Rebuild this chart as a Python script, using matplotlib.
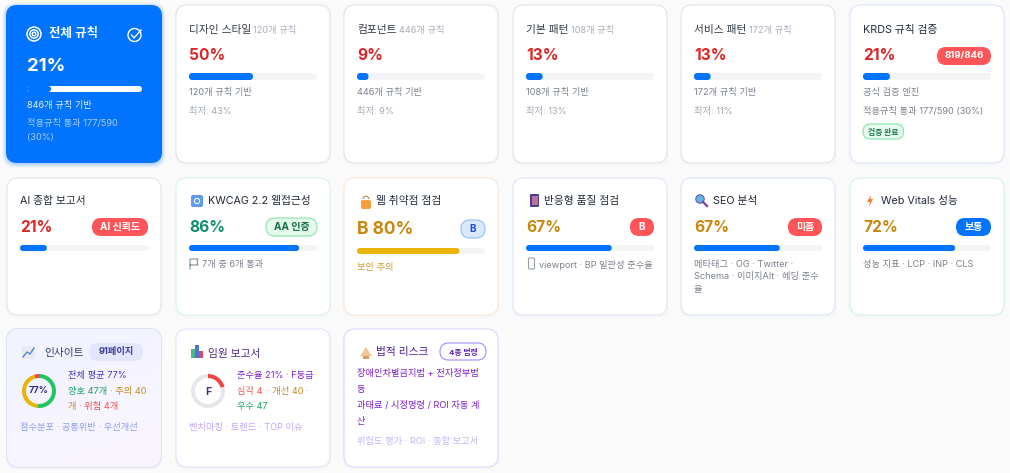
"""
Recreate the quality dashboard cards as a single matplotlib figure.
Axes are in screen pixels, origin top-left.
"""
import numpy as np
import matplotlib
matplotlib.use('Agg')
import matplotlib.pyplot as plt
from matplotlib.patches import FancyBboxPatch, Wedge, Circle, Polygon, Rectangle

plt.rcParams['font.family'] = ['Inter', 'Noto Sans CJK KR', 'DejaVu Sans']

# Data
total_pct = 21
total_notes = ['846개 규칙 기반', '적용규칙 통과 177/590', '(30%)']

top_titles = ['디자인 스타일', '컴포넌트', '기본 패턴', '서비스 패턴']
top_counts = [120, 446, 108, 172]
top_pcts = [50, 9, 13, 13]
top_lows = [43, 9, 13, 11]

krds_pct = 21
krds_badge = '819/846'
krds_notes = ['공식 검증 엔진', '적용규칙 통과 177/590 (30%)']

mid_titles = ['AI 종합 보고서', 'KWCAG 2.2 웹접근성', '웹 취약점 점검', '반응형 품질 점검', 'SEO 분석', 'Web Vitals 성능']
mid_pcts = [21, 86, 80, 67, 67, 72]
mid_scores = ['21%', '86%', 'B 80%', '67%', '67%', '72%']
mid_badges = ['AI 신뢰도', 'AA 인증', 'B', 'B', '미흡', '보통']

insight_parts = [47, 40, 4]
insight_avg = 77
exec_pct = 21

RED = '#dc2626'
AMBER = '#c9860c'
GREEN = '#0f8f6c'
BLUE = '#0073ff'
TRACK = '#f3f4f6'
INK = '#1f2937'
GRAY = '#7b818c'
LIGHT = '#a3a9b3'
BADGE_RED = '#ff5558'
SMALL = 9.2
TITLE = 10.7

fig = plt.figure(figsize=(10.10, 4.73), dpi=100, facecolor='#fafafa')
ax = fig.add_axes([0, 0, 1, 1])
ax.set_xlim(0, 1010)
ax.set_ylim(473, 0)
ax.axis('off')


def px(size):
    return size * 0.72


def rbox(x, y, w, h, r, fc, ec='none', lw=0, z=2, alpha=None):
    p = FancyBboxPatch((x + r, y + r), w - 2 * r, h - 2 * r,
                       boxstyle=f'round,pad={r},rounding_size={r}',
                       fc=fc, ec=ec, lw=lw, zorder=z, alpha=alpha)
    ax.add_patch(p)
    return p


def label(x, y, s, size=10, color=INK, weight='normal', ha='left', z=6):
    ax.text(x, y + 0.5, s, fontsize=px(size), color=color, fontweight=weight,
            ha=ha, va='center', zorder=z)


def card(x, y, w, h, border='#e4e5e8', fc='white'):
    for grow, a in [(2, 0.008), (1, 0.012)]:
        rbox(x - grow, y - grow + 1, w + 2 * grow, h + 2 * grow, 12, 'black', z=1, alpha=a)
    return rbox(x, y, w, h, 11, fc, border, 0.8, z=2)


def bar(x, y, w, pct, h=6, fill=BLUE, track=TRACK):
    rbox(x, y, w, h, h / 2, track, z=3)
    rbox(x, y, w * pct / 100, h, h / 2, fill, z=4)


def badge(right, y, s, fc, color='white', ec='none', w=34, h=18, size=10):
    rbox(right - w, y - h / 2, w, h, h / 2, fc, ec, 0.9 if ec != 'none' else 0, z=5)
    label(right - w / 2, y - 1, s, size, color, 'bold', 'center')


def score_color(pct):
    if pct < 60:
        return RED
    if pct < 85:
        return AMBER
    return GREEN


def ring(cx, cy, r, width, parts, colors):
    # y axis is inverted, so growing angles run clockwise on screen
    start = -90
    for part, c in zip(parts, colors):
        sweep = 360 * part / 100
        ax.add_patch(Wedge((cx, cy), r, start, start + sweep, width=width, fc=c, ec='none', zorder=5))
        start += sweep


# Overall card
for grow, a in [(4, 0.03), (3, 0.05), (2, 0.08), (1, 0.12)]:
    rbox(6 - grow, 5 - grow + 1, 156 + 2 * grow, 158 + 2 * grow, 13, '#0073ff', z=1, alpha=a)
rbox(6, 5, 156, 158, 11, BLUE, z=2)
for r in [7, 4.2, 1.8]:
    ax.add_patch(Circle((34, 34), r, fc='none', ec='white', lw=1.1, zorder=5))
ax.add_patch(Circle((134.5, 35), 6.5, fc='none', ec='white', lw=1.0, zorder=5))
ax.plot([131.5, 134, 141], [35, 38, 30], color='white', lw=1.0, zorder=6)
label(49, 33.5, '전체 규칙', 12.5, 'white', 'bold')
label(27, 66, f'{total_pct}%', 18.5, 'white', 'bold')
bar(27, 86, 115, total_pct, h=6, fill=BLUE, track='white')
label(27, 104.5, total_notes[0], SMALL, '#e6f0ff')
label(27, 123, total_notes[1], SMALL, '#a8cdff')
label(27, 136.5, total_notes[2], SMALL, '#a8cdff')

# Category cards in the top row
top_x = [176, 344, 513, 681]
top_sub_x = [253, 399, 571, 749]
for i, x in enumerate(top_x):
    card(x, 5, 154, 158)
    label(x + 13, 29, top_titles[i], TITLE, '#333a45')
    label(top_sub_x[i], 29.5, f'{top_counts[i]}개 규칙', SMALL, '#a9aeb8')
    label(x + 13, 55, f'{top_pcts[i]}%', 15.5, RED, 'bold')
    bar(x + 13, 73, 128, top_pcts[i], h=7)
    label(x + 13, 91.5, f'{top_counts[i]}개 규칙 기반', SMALL, GRAY)
    label(x + 13, 110.5, f'최저: {top_lows[i]}%', SMALL, LIGHT)

# KRDS card
card(850, 5, 154, 158, '#dbe6fb')
label(863, 29, 'KRDS 규칙 검증', TITLE, INK)
label(863, 55, f'{krds_pct}%', 15.5, RED, 'bold')
badge(991, 56, krds_badge, BADGE_RED, w=54, h=18, size=9.6)
bar(863, 73, 128, krds_pct, h=7)
label(863, 91.5, krds_notes[0], SMALL, GRAY)
label(863, 110.5, krds_notes[1], SMALL, GRAY)
rbox(863, 124, 40.5, 15, 7.5, '#e9fbf0', '#8ae6ae', 0.9, z=5)
label(883.2, 131, '검증 완료', 7.8, '#157a48', 'bold', 'center')

# Middle row cards
mid_x = [7, 176, 344, 513, 681, 850]
mid_border = ['#e4e5e8', '#d8f5e2', '#fde5d4', '#ebe2fb', '#dbe6fb', '#d6f2e8']
mid_text_x = [20, 208, 376, 544, 713, 881]
mid_badge_w = [56, 51, 24, 24, 34, 35]
mid_badge_fc = [BADGE_RED, '#e3faea', '#d9e8fd', BADGE_RED, BADGE_RED, BLUE]
mid_badge_tc = ['white', '#166b45', '#1d4ed8', 'white', 'white', 'white']
mid_badge_ec = ['none', '#93e8b3', '#9cc3f7', 'none', 'none', 'none']
for i, x in enumerate(mid_x):
    card(x, 178, 154, 137, mid_border[i])
    left = x + 13
    right = x + 141
    label(mid_text_x[i], 200, mid_titles[i], TITLE, INK)
    big = i == 2
    label(left, 229 if big else 227, mid_scores[i], 17.5 if big else 15.5,
          '#c9860c' if big else score_color(mid_pcts[i]), 'bold')
    badge(right, 229 if big else 227, mid_badges[i], mid_badge_fc[i], mid_badge_tc[i],
          mid_badge_ec[i], w=mid_badge_w[i], h=18)
    bar_y = 248 if big else 245
    bar(left, bar_y, 128, mid_pcts[i], h=6, fill='#eab308' if big else BLUE)

label(202, 264, '7개 중 6개 통과', SMALL, GRAY)
label(357, 266.5, '보안 주의', SMALL, '#d39a32')
label(539, 264, 'viewport · BP 일관성 준수율', SMALL, GRAY)
label(694, 264, '메타태그 · OG · Twitter ·', SMALL, GRAY)
label(694, 276, 'Schema · 이미지Alt · 헤딩 준수', SMALL, GRAY)
label(694, 289, '율', SMALL, GRAY)
label(863, 264, '성능 지표 · LCP · INP · CLS', SMALL, GRAY)

# Small icons standing in for the emoji
rbox(191, 195, 12, 12, 2, '#5b9bf0', z=5)
ax.add_patch(Circle((197, 201), 2.6, fc='none', ec='white', lw=0.8, zorder=6))
ax.plot([190, 190, 198, 197, 198, 190], [269, 259, 259, 262, 265, 265], color=GRAY, lw=0.7, zorder=5)
rbox(361, 200, 10, 9, 2, '#f0a13c', z=5)
ax.add_patch(Wedge((366, 199), 3.4, 180, 360, width=1.2, fc='#c98a4a', zorder=5))
rbox(530, 194, 9, 13, 1.2, '#4a3d8f', z=5)
ax.add_patch(Rectangle((531.5, 196), 6, 9, fc='#b9729b', zorder=6))
rbox(528.5, 258, 6, 11, 1.2, 'white', '#9aa0a8', 0.8, z=5)
ax.add_patch(Circle((700, 199), 4.2, fc='#5cb8e6', ec='#6d5aa8', lw=0.8, zorder=5))
ax.plot([703, 707], [202, 206], color='#7a3fa0', lw=1.6, zorder=5)
ax.add_patch(Polygon([[871, 195], [867, 202], [870, 202], [869, 207], [873, 199], [870.5, 199]],
                     fc='#f97a3c', zorder=5))

# Bottom row: insight card with a faint gradient
ins = card(7, 329, 154, 138, '#c9d4fc', '#f4f5ff')
grad = np.linspace(0, 1, 64).reshape(-1, 1) + np.linspace(0, 0.5, 64).reshape(1, -1)
img = ax.imshow(grad, extent=(7, 161, 467, 329), cmap=matplotlib.colors.LinearSegmentedColormap.from_list(
    'soft', ['#f1f3ff', '#f9f5ff']), zorder=2.5, aspect='auto')
img.set_clip_path(ins)
ax.set_xlim(0, 1010)
ax.set_ylim(473, 0)

rbox(22, 346, 13, 13, 1, '#e8eaf2', z=5)
ax.plot([23, 27, 30, 34], [357, 352, 354, 348], color='#5b86c9', lw=1, zorder=6)
label(44, 352, '인사이트', TITLE, '#373f6b')
rbox(89, 343, 54, 18, 9, '#e2e7fd', z=5)
label(116, 351, '91페이지', SMALL, '#3f3f9e', 'bold', 'center')
ins_total = sum(insight_parts)
ring(39, 391, 17, 4, [100 * p / ins_total for p in insight_parts], ['#22c55e', '#eab308', '#ef4444'])
label(39, 390, f'{insight_avg}%', 9, '#312e81', 'bold', 'center')
label(68, 375, f'전체 평균 {insight_avg}%', SMALL, '#4338ca')
label(68, 391, f'양호 {insight_parts[0]}개', SMALL, '#1fa463')
label(110, 391, f'· 주의 {insight_parts[1]}', SMALL, '#c98a1e')
label(68, 406, '개', SMALL, '#c98a1e')
label(79, 406, f'· 위험 {insight_parts[2]}개', SMALL, '#ef5350')
label(20, 426.5, '점수분포 · 공통위반 · 우선개선', SMALL, '#8fa0ee')

card(176, 329, 154, 138, '#ecdffc')
ax.bar([193, 197, 201], [9, 13, 7], width=3.5, color=['#4fb58a', '#4a78c9', '#d8447e'], zorder=5,
       transform=matplotlib.transforms.Affine2D().scale(1, -1).translate(0, 358) + ax.transData)
label(208, 353, '임원 보고서', TITLE, '#4c2a85')
ring(208, 391, 17, 4, [exec_pct, 100 - exec_pct], ['#ef4444', '#e5e7eb'])
label(208, 391, 'F', 10.5, '#4c2a85', 'bold', 'center')
label(237, 375, f'준수율 {exec_pct}% · F등급', SMALL, '#7e22ce')
label(237, 391, '심각 4', SMALL, '#ef5350')
label(267, 391, '· 개선 40 ·', SMALL, '#c98a1e')
label(237, 406, '우수 47', SMALL, '#1fa463')
label(189, 426.5, '벤치마킹 · 트렌드 · TOP 이슈', SMALL, '#c4a5fb')

card(344, 329, 154, 138, '#ddd6fe')
ax.add_patch(Polygon([[360, 356], [366, 347], [372, 356]], fc='#f2c79a', zorder=5))
ax.add_patch(Rectangle((363, 356), 6, 2.5, fc='#d99a5a', zorder=5))
label(376, 351, '법적 리스크', TITLE, '#4c1d95')
rbox(440, 343, 46, 17, 8.5, 'white', '#a78bfa', 0.8, z=5)
label(463, 351, '4종 법령', 7.8, '#5b21b6', 'bold', 'center')
label(357, 373, '장애인차별금지법 + 전자정부법', SMALL, '#7e22ce')
label(357, 389, '등', SMALL, '#7e22ce')
label(357, 405, '과태료 / 시정명령 / ROI 자동 계', SMALL, '#7e22ce')
label(357, 421, '산', SMALL, '#7e22ce')
label(357, 440.5, '위험도 평가 · ROI · 종합 보고서', SMALL, '#c4b5fd')

fig.savefig('out.png', dpi=100, facecolor=fig.get_facecolor())
plt.close(fig)
